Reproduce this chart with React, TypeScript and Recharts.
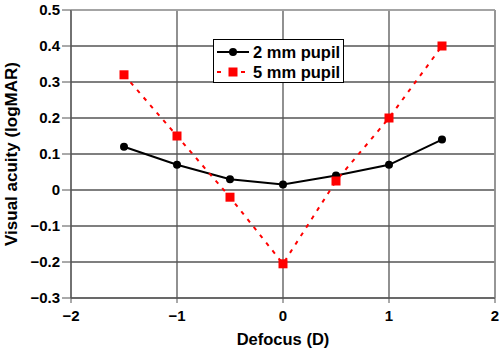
import { LineChart, Line, XAxis, YAxis, CartesianGrid, ReferenceLine } from "recharts";

const defocus = [-1.5, -1, -0.5, 0, 0.5, 1, 1.5];
const pupil2mm = [0.12, 0.07, 0.03, 0.015, 0.04, 0.07, 0.14];
const pupil5mm = [0.32, 0.15, -0.02, -0.205, 0.025, 0.2, 0.4];
const xTicks = [-2, -1, 0, 1, 2];
const yTicks = [-0.3, -0.2, -0.1, 0, 0.1, 0.2, 0.3, 0.4, 0.5];

const data = defocus.map((d, i) => ({ d, a: pupil2mm[i], b: pupil5mm[i] }));

const font = "'Liberation Sans', Arial, sans-serif";
const minus = (v: number) => String(v).replace("-", "\u2212");

// square marker for the 5 mm series
const Square = (props: any) => {
  const { cx, cy } = props;
  if (cx == null || cy == null) return null;
  return <rect x={cx - 4.5} y={cy - 4.5} width={9} height={9} fill="#ff0000" />;
};

export default function App() {
  const tick = { fill: "#000", fontSize: 15, fontWeight: 700, fontFamily: font };
  return (
    <div style={{ position: "absolute", left: 0, top: 0, width: 500, height: 353, background: "#fff" }}>
      <LineChart width={500} height={353} data={data} margin={{ top: 10, right: 5, left: 0, bottom: 0 }}>
        <CartesianGrid stroke="#555" strokeWidth={1.3} />
        <ReferenceLine y={0.5} stroke="#b0b0b0" strokeWidth={1.5} />
        <ReferenceLine x={2} stroke="#999" strokeWidth={1.5} />
        <XAxis
          type="number"
          dataKey="d"
          domain={[-2, 2]}
          ticks={xTicks}
          tickFormatter={minus}
          tick={tick}
          stroke="#555"
          tickSize={5}
          tickMargin={7}
          height={55}
          label={{
            content: () => (
              <text x={283} y={339} textAnchor="middle" dominantBaseline="central" fontSize={16.5} fontWeight={700} fontFamily={font}>
                Defocus (D)
              </text>
            ),
          }}
        />
        <YAxis
          type="number"
          domain={[-0.3, 0.5]}
          ticks={yTicks}
          tickFormatter={minus}
          tick={tick}
          stroke="#555"
          tickSize={9}
          tickMargin={2}
          width={71}
          label={{
            content: () => (
              <text x={11} y={154} transform="rotate(-90 11 154)" textAnchor="middle" dominantBaseline="central" fontSize={17} fontWeight={700} fontFamily={font}>
                Visual acuity (logMAR)
              </text>
            ),
          }}
        />
        <Line
          dataKey="a"
          stroke="#000"
          strokeWidth={2}
          dot={{ r: 4, fill: "#000", stroke: "#000", strokeWidth: 0 }}
          isAnimationActive={false}
        />
        <Line
          dataKey="b"
          stroke="#ff0000"
          strokeWidth={2}
          strokeDasharray="4 6"
          dot={<Square />}
          isAnimationActive={false}
        />
      </LineChart>
      <div
        style={{
          position: "absolute",
          left: 213,
          top: 39,
          width: 129,
          height: 42,
          border: "1px solid #000",
          background: "#fff",
          fontFamily: font,
          fontWeight: 700,
          fontSize: 16.5,
        }}
      >
        <div style={{ display: "flex", alignItems: "center", height: 20, marginTop: 2 }}>
          <svg width={36} height={12} style={{ marginLeft: 2 }}>
            <line x1={1} y1={6} x2={33} y2={6} stroke="#000" strokeWidth={2} />
            <circle cx={17} cy={6} r={4} fill="#000" />
          </svg>
          <span style={{ marginLeft: 1, whiteSpace: "nowrap" }}>2 mm pupil</span>
        </div>
        <div style={{ display: "flex", alignItems: "center", height: 20 }}>
          <svg width={36} height={12} style={{ marginLeft: 2 }}>
            <line x1={1} y1={6} x2={33} y2={6} stroke="#ff0000" strokeWidth={2} strokeDasharray="4 8" />
            <rect x={12.5} y={1.5} width={9} height={9} fill="#ff0000" />
          </svg>
          <span style={{ marginLeft: 1, whiteSpace: "nowrap" }}>5 mm pupil</span>
        </div>
      </div>
    </div>
  );
}
